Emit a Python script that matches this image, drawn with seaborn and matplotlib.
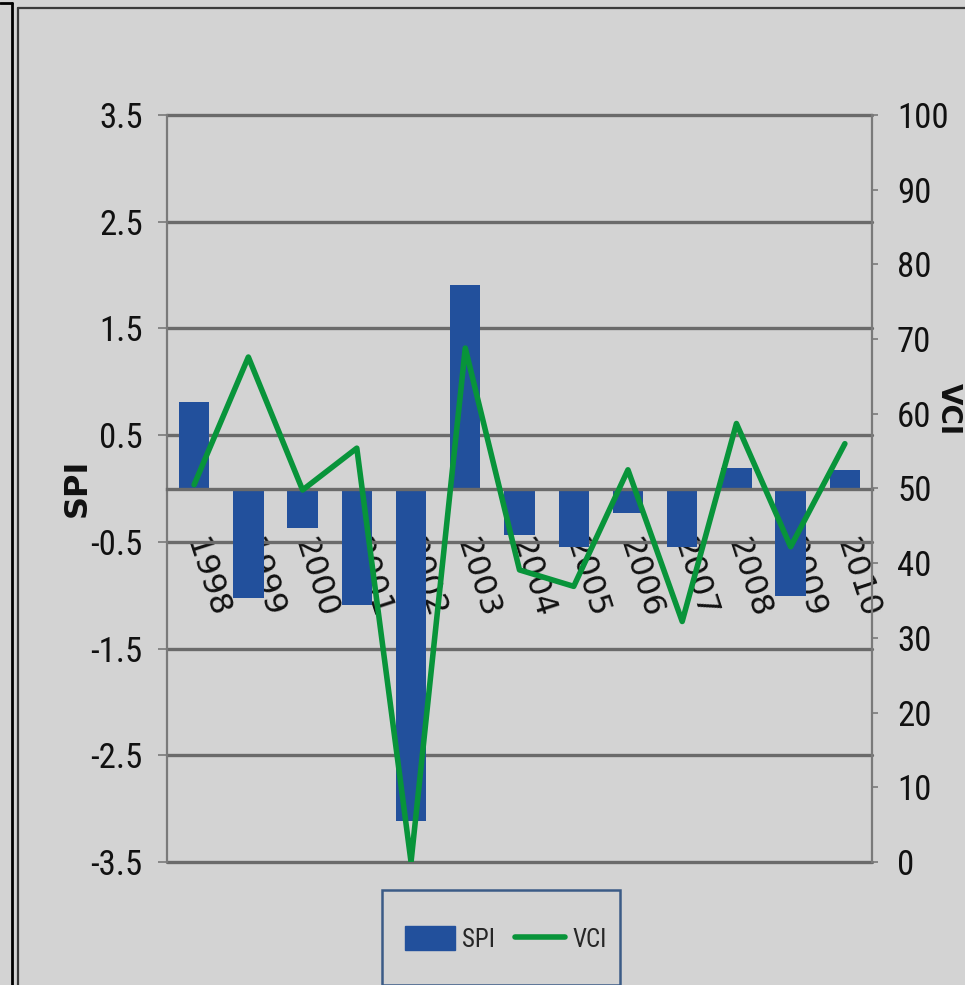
import numpy as np
import matplotlib
matplotlib.use("Agg")
import matplotlib.pyplot as plt
import matplotlib.transforms as mtransforms
from matplotlib import font_manager
from matplotlib.lines import Line2D
from matplotlib.patches import Rectangle
import seaborn as sns

# ---- data -------------------------------------------------------------
years = ["1998", "1999", "2000", "2001", "2002", "2003", "2004",
         "2005", "2006", "2007", "2008", "2009", "2010"]
spi = [0.81, -1.03, -0.37, -1.09, -3.12, 1.91, -0.44,
       -0.55, -0.23, -0.55, 0.19, -1.01, 0.17]
vci = [50.5, 67.6, 49.8, 55.4, 0.0, 68.8, 39.1,
       36.9, 52.5, 32.2, 58.7, 42.2, 56.0]

spi_ticks = [-3.5, -2.5, -1.5, -0.5, 0.5, 1.5, 2.5, 3.5]
vci_ticks = list(range(0, 101, 10))

# ---- style ------------------------------------------------------------
BG = "#d3d3d3"
BAR = "#22509c"
LINE = "#08943a"
GRID = "#6a6a6a"
AXIS = "#7a7a7a"
TXT = "#111111"

sns.set_theme(style="white")

# pick a narrow sans face for the numeric axes if one is installed
installed = {f.name for f in font_manager.fontManager.ttflist}
narrow = None
for cand in ["Liberation Sans Narrow", "Roboto Condensed", "Open Sans Condensed"]:
    if cand in installed:
        narrow = cand
        break
if narrow is None:
    narrow = "DejaVu Sans"
    tick_fs, leg_fs = 19, 15
else:
    tick_fs, leg_fs = 25, 18

plt.rcParams["font.family"] = ["DejaVu Sans"]

fig = plt.figure(figsize=(9.65, 9.85), dpi=100, facecolor=BG)
W, H = 965.0, 985.0
ax = fig.add_axes([167 / W, 1 - 862 / H, (872 - 167) / W, (862 - 115) / H])
ax.set_facecolor(BG)

# SPI bars
sns.barplot(x=np.arange(len(years)), y=spi, color=BAR, saturation=1,
            width=0.56, linewidth=0, ax=ax, zorder=2)
ax.set_ylim(-3.5, 3.5)
ax.set_xlim(-0.5, len(years) - 0.5)
ax.set_yticks(spi_ticks)
ax.set_yticklabels([f"{t:g}" for t in spi_ticks], family=[narrow, "DejaVu Sans"],
                   fontsize=tick_fs, color=TXT)
ax.set_axisbelow(True)
ax.yaxis.grid(True, color=GRID, linewidth=2.4)
ax.xaxis.grid(False)
for gl in ax.yaxis.get_gridlines():
    gl.set_clip_on(False)

ax.tick_params(axis="y", which="major", direction="out", length=6.5, width=1.2,
               color=AXIS, pad=11, left=True)

# category axis crosses at SPI = 0
ax.spines["bottom"].set_position(("data", 0))
ax.spines["bottom"].set_color(GRID)
ax.spines["bottom"].set_linewidth(2.4)
ax.spines["top"].set_visible(False)
ax.spines["right"].set_visible(False)
ax.spines["left"].set_color(AXIS)
ax.spines["left"].set_linewidth(1.6)

ax.set_ylabel("SPI", fontsize=23, fontweight="bold", color=TXT,
              va="center", ha="center")
ax.yaxis.set_label_coords((77 - 167) / 705, (862 - 488) / 747)
ax.set_xlabel("")

# VCI line on the secondary axis
ax2 = ax.twinx()
sns.lineplot(x=np.arange(len(years)), y=vci, color=LINE, linewidth=4.0, ax=ax2,
             zorder=5)
ax2.set_ylim(0, 100)
ax2.set_yticks(vci_ticks)
ax2.set_yticklabels([str(t) for t in vci_ticks], family=[narrow, "DejaVu Sans"],
                    fontsize=tick_fs, color=TXT)
ax2.tick_params(axis="y", direction="out", length=4, width=1.2, color=AXIS, pad=14)
for s in ["left", "top", "bottom"]:
    ax2.spines[s].set_visible(False)
ax2.spines["right"].set_color(AXIS)
ax2.spines["right"].set_linewidth(1.6)
ax2.set_ylabel("VCI", fontsize=20, fontweight="bold", color=TXT,
               rotation=-90, va="center", ha="center")
ax2.yaxis.set_label_coords((949 - 167) / 705, (862 - 409) / 747)
ax2.grid(False)

# rotated year labels below the zero line
ax.set_xticks(np.arange(len(years)))
ax.set_xticklabels(years, rotation=-72, ha="left", va="top", fontsize=23,
                   color=TXT)
ax.tick_params(axis="x", length=0, pad=33)
shift = mtransforms.ScaledTranslation(-15 / 100, 0, fig.dpi_scale_trans)
for lab in ax.get_xticklabels():
    lab.set_transform(lab.get_transform() + shift)

# legend
handles = [Rectangle((0, 0), 1, 1, color=BAR), Line2D([], [], color=LINE, lw=4.0)]
fig.legend(handles, ["SPI", "VCI"], loc="center", ncol=2,
           bbox_to_anchor=(506 / W, 1 - 939 / H), frameon=False,
           prop={"family": [narrow, "DejaVu Sans"], "size": leg_fs},
           handlelength=2.0, handleheight=1.05, handletextpad=0.3,
           columnspacing=0.8, borderpad=0)
fig.add_artist(Rectangle((382 / W, 0), (620 - 382) / W, 1 - 890 / H,
                         transform=fig.transFigure, fill=False,
                         edgecolor="#3b5b86", linewidth=1.8, clip_on=False))

# surrounding frame lines
fig.add_artist(Line2D([12 / W, 12 / W], [0, 1 - 3 / H], transform=fig.transFigure,
                      color="#000000", linewidth=2.0))
fig.add_artist(Line2D([0, 12 / W], [1 - 3 / H, 1 - 3 / H], transform=fig.transFigure,
                      color="#000000", linewidth=2.0))
fig.add_artist(Line2D([18 / W, 18 / W], [0, 1 - 8 / H], transform=fig.transFigure,
                      color="#3a3a3a", linewidth=1.6))
fig.add_artist(Line2D([18 / W, 1], [1 - 8 / H, 1 - 8 / H], transform=fig.transFigure,
                      color="#3a3a3a", linewidth=1.6))

fig.savefig("out.png", dpi=100, facecolor=BG)
